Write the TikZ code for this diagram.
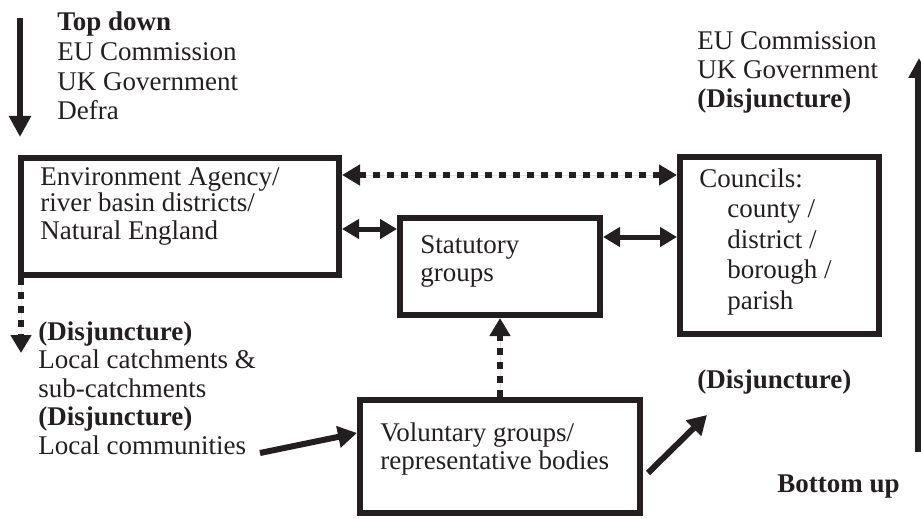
\documentclass[tikz,border=0pt]{standalone}
\usepackage{fontspec}
\setmainfont{Liberation Serif}
\usetikzlibrary{arrows.meta}
\definecolor{ink}{RGB}{35,31,32}
\begin{document}
\begin{tikzpicture}[x=0.5pt,y=-0.5pt,
  box/.style={draw=ink, line width=3pt, rectangle, inner sep=0pt},
  txt/.style={anchor=base west, align=left, inner sep=0pt, text=ink},
  solidarr/.style={draw=ink, fill=ink, line width=2.5pt, {Triangle[length=8.5pt,width=9.5pt]}-{Triangle[length=8.5pt,width=9.5pt]}},
  dotline/.style={draw=ink, fill=ink, line width=3pt, dash pattern=on 3.5pt off 3.5pt},
  dotdouble/.style={dotline, {Triangle[length=9pt,width=10pt]}-{Triangle[length=9pt,width=10pt]}},
  dotsingle/.style={dotline, -{Triangle[length=9pt,width=10pt]}},
  bigarr/.style={draw=ink, line width=3pt, -{Triangle[length=10.5pt,width=10.5pt]}},
  obarr/.style={draw=ink, line width=3pt, -{Triangle[length=9.5pt,width=10.5pt]}},
]
\useasboundingbox (0,0) rectangle (921,519);

% boxes
\node[box, minimum width=159pt, minimum height=58.5pt] (ea) at (180,216.5) {};
\node[box, minimum width=100pt, minimum height=48.5pt] (st) at (500,266.5) {};
\node[box, minimum width=99.5pt, minimum height=88.5pt] (co) at (779.5,245.5) {};
\node[box, minimum width=140pt, minimum height=56.5pt] (vo) at (500,456.5) {};

% box texts (anchored at the baseline of the last line)
\node[txt, font=\fontsize{13.5}{13.5}\selectfont] (eat) at (40,239)
  {Environment Agency/\\river basin districts/\\Natural England};
\node[txt, font=\fontsize{13.5}{14}\selectfont] (stt) at (420,281)
  {Statutory\\groups};
\node[txt, font=\fontsize{13.5}{15.25}\selectfont] (cot) at (699,309)
  {Councils:\\\hspace*{14pt}county /\\\hspace*{14pt}district /\\\hspace*{14pt}borough /\\\hspace*{14pt}parish};
\node[txt, font=\fontsize{13.5}{14}\selectfont] (vot) at (380,469)
  {Voluntary groups/\\representative bodies};

% free texts
\node[txt, font=\fontsize{13.5}{14.75}\selectfont] (td) at (57,119.5)
  {\textbf{Top down}\\EU Commission\\UK Government\\Defra};
\node[txt, font=\fontsize{13.5}{14.5}\selectfont] (tr) at (697,108)
  {EU Commission\\UK Government\\\textbf{(Disjuncture)}};
\node[txt, font=\fontsize{13.5}{14.25}\selectfont] (lb) at (38,454)
  {\textbf{(Disjuncture)}\\Local catchments \&\\sub-catchments\\\textbf{(Disjuncture)}\\Local communities};
\node[txt, font=\fontsize{13.5}{14}\selectfont] (rd) at (697,388) {\textbf{(Disjuncture)}};
\node[txt, font=\fontsize{13.5}{14}\selectfont] (bu) at (777,492) {\textbf{Bottom up}};

% coordinates for free ends
\coordinate (tdA) at (20,18);
\coordinate (tdB) at (20,137);
\coordinate (buA) at (919,452);
\coordinate (buB) at (919,58);
\coordinate (djEnd) at (21,353);
\coordinate (lcA) at (260,453);
\coordinate (voA) at (648,473);
\coordinate (rdB) at (707,415);

% connectors
\draw[bigarr] (tdA) -- (tdB);
\draw[draw=ink, line width=4.5pt, -{Triangle[length=10pt,width=10pt]}] (buA) -- (buB);
\draw[dotdouble] ([yshift=-10pt]ea.north east) -- ([yshift=-10pt]ea.north east -| co.west);
\draw[solidarr] ([yshift=-7pt]st.north west -| ea.east) -- ([yshift=-7pt]st.north west);
\draw[solidarr] ([yshift=-11pt]st.north east) -- ([yshift=-11pt]st.north east -| co.west);
\draw[dotsingle] (vo.north) -- (st.south);
\draw[dotsingle] ([xshift=1.5pt]ea.south west) -- (djEnd);
\draw[obarr] (lcA) -- ([yshift=11.75pt]vo.west);
\draw[obarr] (voA) -- (rdB);
\end{tikzpicture}
\end{document}
